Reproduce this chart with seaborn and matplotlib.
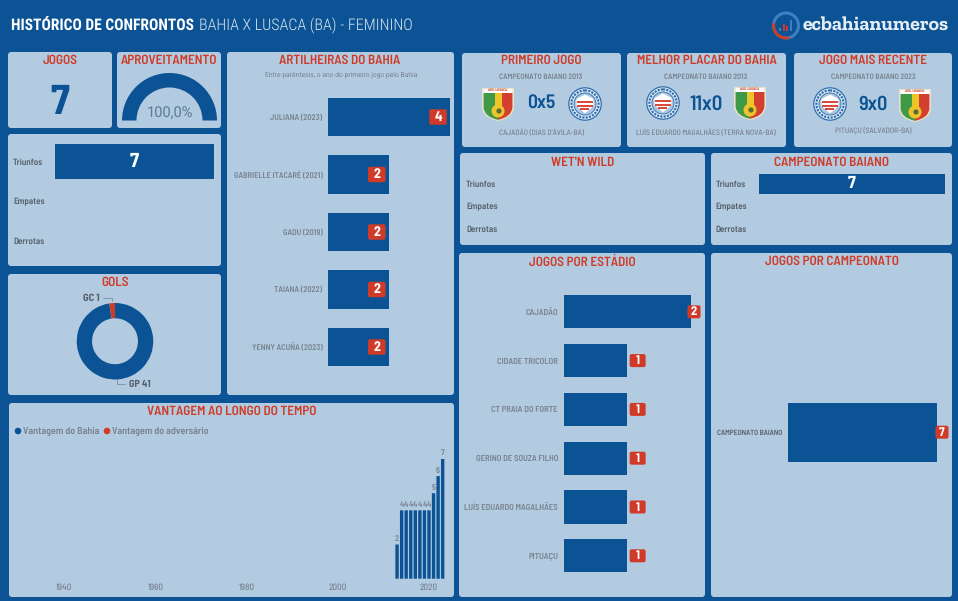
import pandas as pd
import seaborn as sns
import matplotlib.pyplot as plt
from matplotlib.patches import FancyBboxPatch, Circle, Wedge, Polygon, Rectangle, PathPatch
from matplotlib.path import Path
from matplotlib.transforms import IdentityTransform

# data
jogos = 7
aproveitamento = "100,0%"
aproveitamento_valor = 100.0
resultado_nomes = ["Triunfos", "Empates", "Derrotas"]
resultado_geral = [7, 0, 0]
resultado_wet = [0, 0, 0]
resultado_baiano = [7, 0, 0]
gols_nomes = ["GP", "GC"]
gols_valores = [41, 1]
artilheiras = ["JULIANA (2023)", "GABRIELLE ITACARÉ (2021)", "GADU (2019)", "TAIANA (2022)", "YENNY ACUÑA (2023)"]
artilheiras_gols = [4, 2, 2, 2, 2]
estadios = ["CAJADÃO", "CIDADE TRICOLOR", "CT PRAIA DO FORTE", "GERINO DE SOUZA FILHO", "LUÍS EDUARDO MAGALHÃES", "PITUAÇU"]
estadios_jogos = [2, 1, 1, 1, 1, 1]
campeonatos = ["CAMPEONATO BAIANO"]
campeonatos_jogos = [7]
anos = [2013, 2014, 2015, 2016, 2017, 2018, 2019, 2020, 2021, 2022, 2023]
vantagem = [2, 4, 4, 4, 4, 4, 4, 4, 5, 6, 7]
anos_ticks = [1940, 1960, 1980, 2000, 2020]

W, H = 958, 601
BLUE = "#0b5394"
PANEL = "#b3cbe0"
RED = "#cf3b28"
GREY = "#778290"
DARK = "#56606b"
DIN = ["Barlow Semi Condensed", "Roboto", "DejaVu Sans"]
TITLE = ["Roboto Condensed", "Roboto", "DejaVu Sans"]
SLAB = ["Zilla Slab", "DejaVu Serif"]
LIGHT = ["Roboto", "DejaVu Sans"]

sns.set_style("white", {"axes.facecolor": "none"})
plt.rcParams["font.family"] = DIN
plt.rcParams["text.hinting"] = "no_hinting"

fig = plt.figure(figsize=(W / 100, H / 100), dpi=100, facecolor=BLUE)

# background layer in pixel coordinates, for the panels and loose text
bg = fig.add_axes([0, 0, 1, 1])
bg.set_xlim(0, W)
bg.set_ylim(H, 0)
bg.axis("off")


def panel(x0, y0, x1, y1):
    bg.add_patch(FancyBboxPatch((x0, y0), x1 - x0, y1 - y0, boxstyle="round,pad=0,rounding_size=3", fc=PANEL, ec="none"))


def txt(x, y, s, size, color=GREY, weight="bold", ha="center", **kw):
    bg.text(x, y, s, fontsize=size, color=color, fontweight=weight, ha=ha, va="center", **kw)


def box(x0, y0, x1, y1):
    ax = fig.add_axes([x0 / W, 1 - y1 / H, (x1 - x0) / W, (y1 - y0) / H])
    ax.patch.set_alpha(0)
    return ax


def hbars(rect, nomes, valores, xmax, bar_w, label_size, label_color=GREY, pad=3.6):
    ax = box(*rect)
    df = pd.DataFrame({"nome": nomes, "valor": valores})
    sns.barplot(data=df, x="valor", y="nome", orient="h", color=BLUE, saturation=1, width=bar_w, linewidth=0, ax=ax)
    ax.set_xlim(0, xmax)
    ax.set(xlabel="", ylabel="", xticks=[])
    ax.tick_params(axis="y", length=0, pad=pad, labelsize=label_size, labelcolor=label_color)
    for lab in ax.get_yticklabels():
        lab.set_fontweight("semibold")
    sns.despine(ax=ax, left=True, bottom=True)
    return ax


def badge(ax, valores, dx, size, bw, bh):
    # red tag next to the bar end, placed from the axes scale; dx and bw are in pixels
    for i, v in enumerate(valores):
        px, py = ax.transData.transform((v, i))
        w = bw(v)
        x = px + dx(v)
        fig.add_artist(FancyBboxPatch((x - w / 2, py - bh / 2), w, bh, boxstyle="round,pad=0,rounding_size=2",
                                      fc=RED, ec="none", transform=IdentityTransform(), zorder=5))
        fig.text(x / W, (py - 0.3) / H, str(v), color="white", fontsize=size, fontweight="bold",
                 ha="center", va="center", zorder=6)


def left_labels(ax, pad_px):
    ax.tick_params(axis="y", pad=pad_px * 0.72)
    for lab in ax.get_yticklabels():
        lab.set_horizontalalignment("left")


def bahia(cx, cy):
    bg.add_patch(Circle((cx, cy), 16.8, fc="#2b6cae", ec="none"))
    bg.add_patch(Circle((cx, cy), 15.6, fc="#d9e5f0", ec="none"))
    bg.add_patch(Circle((cx, cy), 13.6, fc="none", ec="#2b6cae", lw=1.5, ls=(0, (1, 0.6))))
    bg.add_patch(Circle((cx, cy), 11, fc="#a9c6e2", ec="#2b6cae", lw=0.6))
    bg.add_patch(Polygon([(cx - 8.5, cy - 5), (cx, cy - 9.5), (cx + 8.5, cy - 5), (cx + 8.5, cy + 2), (cx, cy + 9.5), (cx - 8.5, cy + 2)], fc="white", ec="none"))
    for dy, half in [(-3.2, 8), (0.6, 8), (4.2, 4.5)]:
        bg.add_patch(Rectangle((cx - half, cy + dy), half * 2, 2.2, fc="#d84a3c", ec="none"))


def lusaca(cx, cy):
    verts = [(cx - 16, cy - 16), (cx + 16, cy - 16), (cx + 16, cy + 4), (cx + 15, cy + 14), (cx, cy + 17),
             (cx - 15, cy + 14), (cx - 16, cy + 4), (cx - 16, cy - 16)]
    codes = [Path.MOVETO, Path.LINETO, Path.LINETO, Path.CURVE3, Path.CURVE3, Path.CURVE3, Path.CURVE3, Path.CLOSEPOLY]
    bg.add_patch(PathPatch(Path(verts, codes), fc="#e8e2c8", ec="none"))
    inner = PathPatch(Path([(cx + (x - cx) * 0.9, cy + (y - cy) * 0.93) for x, y in verts], codes), fc="none", ec="none")
    bg.add_patch(inner)
    parts = [
        Rectangle((cx - 16, cy - 16), 32, 5, fc="white", ec="none"),
        Rectangle((cx - 16, cy - 11), 16, 28, fc="#3f9a48", ec="none"),
        Rectangle((cx, cy - 11), 16, 28, fc="#d4402f", ec="none"),
        Rectangle((cx - 3, cy - 11), 7, 16, fc="#ecc628", ec="none"),
        Circle((cx, cy + 7), 6.5, fc="#ecc628", ec="none"),
        Circle((cx + 1, cy + 7), 2.6, fc="#5b6b35", ec="none"),
    ]
    for p in parts:
        bg.add_patch(p)
        p.set_clip_path(inner)
    txt(cx, cy - 13.5, "ASS. LUSACA", 2.6, RED)


# panels
panel(8, 52, 112, 128)
panel(117, 52, 221, 128)
panel(8, 134, 221, 266)
panel(227, 52, 454, 395)
panel(8, 274, 221, 395)
panel(9, 403, 454, 597)
panel(462, 53, 621, 147)
panel(627, 53, 786, 147)
panel(794, 53, 952, 147)
panel(460, 153, 705, 245)
panel(711, 153, 952, 245)
panel(459, 253, 705, 597)
panel(711, 253, 952, 597)

# header
txt(11, 25.5, "HISTÓRICO DE CONFRONTOS", 11.2, "white", "bold", "left", family=TITLE)
txt(199, 25.5, "BAHIA X LUSACA (BA) - FEMININO", 11.5, "#d5e3ef", "light", "left", family=TITLE)

# logo
bg.add_patch(Wedge((786, 25.5), 14, 0, 360, width=3, fc="#3f7fc2", ec="none"))
bg.add_patch(Wedge((786, 25.5), 14, 75, 190, width=3, fc=RED, ec="none"))
bg.add_patch(Rectangle((779.5, 28), 2, 3, fc="#3f7fc2", ec="none"))
bg.add_patch(Rectangle((783, 24), 2, 7, fc=RED, ec="none"))
bg.add_patch(Rectangle((786.5, 26), 2, 5, fc=RED, ec="none"))
bg.add_patch(Rectangle((790, 20), 2, 11, fc="#3f7fc2", ec="none"))
txt(803, 25, "ecbahianumeros", 14.3, "#e6eef5", "bold", "left", family=SLAB)

# panel titles
titulos = [(60, 60, "JOGOS"), (169, 60, "APROVEITAMENTO"), (340, 60, "ARTILHEIRAS DO BAHIA"),
           (115, 282, "GOLS"), (232, 411, "VANTAGEM AO LONGO DO TEMPO"), (541, 60, "PRIMEIRO JOGO"),
           (707, 60, "MELHOR PLACAR DO BAHIA"), (873, 60, "JOGO MAIS RECENTE"), (583, 162, "WET'N WILD"),
           (832, 162, "CAMPEONATO BAIANO"), (582, 261, "JOGOS POR ESTÁDIO"), (832, 261, "JOGOS POR CAMPEONATO")]
for x, y, s in titulos:
    txt(x, y + 0.7, s, 9.5, RED, "semibold")

txt(60, 103, str(jogos), 30, BLUE, "bold")
txt(341, 74.5, "Entre parêntesis, o ano do primeiro jogo pelo Bahia", 4.9, GREY, "normal", family=LIGHT)

# aproveitamento gauge
gauge = box(122, 73, 217, 120.5)
gauge.pie([aproveitamento_valor, 200 - aproveitamento_valor], colors=[BLUE, "none"], startangle=180, counterclock=False,
          radius=1, wedgeprops=dict(width=1 - 33 / 47.5, lw=0))
gauge.set_xlim(-1, 1)
gauge.set_ylim(0, 1)
txt(170, 113, aproveitamento, 10.5, "#5a7a9a", "normal", family=LIGHT)

# triunfos / empates / derrotas
ax = hbars((55, 142, 214, 261), resultado_nomes, resultado_geral, 7, 0.88, 6.5, DARK)
left_labels(ax, 42)
ax.text(3.5, 0, str(resultado_geral[0]), color="white", fontsize=14.5, fontweight="bold", ha="center", va="center")

ax = hbars((505, 172.75, 695, 240.25), resultado_nomes, resultado_wet, 7, 0.9, 6.5, DARK)
left_labels(ax, 39)

ax = hbars((758.7, 172.75, 945.3, 240.25), resultado_nomes, resultado_baiano, 7, 0.9, 6.5, DARK)
left_labels(ax, 43)
ax.text(3.5, 0, str(resultado_baiano[0]), color="white", fontsize=12.5, fontweight="bold", ha="center", va="center")

# artilheiras
ax = hbars((327.5, 88.25, 450, 375.75), artilheiras, artilheiras_gols, 4, 0.67, 6)
badge(ax, artilheiras_gols, lambda v: -12, 10, lambda v: 17.5, 15.5)

# gols donut
ax = box(76.7, 303, 153.3, 379.5)
ax.pie(gols_valores, colors=[BLUE, RED], startangle=90, counterclock=False, radius=1, wedgeprops=dict(width=0.4, lw=0))
ax.set_xlim(-1, 1)
ax.set_ylim(-1, 1)
txt(83, 298, "%s %d" % (gols_nomes[1], gols_valores[1]), 7.5, DARK, ha="left")
txt(129, 384, "%s %d" % (gols_nomes[0], gols_valores[0]), 7.3, DARK, ha="left")
bg.plot([103, 112, 112], [298, 298, 301], color=GREY, lw=0.5)
bg.plot([117, 117, 125], [379, 384, 384], color=GREY, lw=0.5)

# vantagem ao longo do tempo
ax = box(20, 440, 449, 578.7)
sns.barplot(x=anos, y=vantagem, native_scale=True, color=BLUE, saturation=1, width=0.74, linewidth=0, ax=ax)
ax.set_xlim(2020 + (20 - 429) / 4.56, 2020 + (449 - 429) / 4.56)
ax.set_ylim(0, 138.7 / 17.1)
ax.set_xticks(anos_ticks)
ax.set_xticklabels([str(a) for a in anos_ticks])
ax.set_yticks([])
ax.set(xlabel="", ylabel="")
ax.tick_params(axis="x", length=0, pad=3.5, labelsize=6.6, labelcolor=GREY)
for lab in ax.get_xticklabels():
    lab.set_fontweight("medium")
for bar in ax.containers[0]:
    bar.set_snap(False)
ax.bar_label(ax.containers[0], fontsize=6, color=GREY, padding=1.5, fontweight="semibold")
sns.despine(ax=ax, left=True, bottom=True)
bg.add_patch(Circle((18, 431), 3.3, fc=BLUE, ec="none"))
bg.add_patch(Circle((107, 431), 3.3, fc=RED, ec="none"))
txt(23, 431, "Vantagem do Bahia", 7.2, ha="left", weight="semibold")
txt(112, 431, "Vantagem do adversário", 7.2, ha="left", weight="semibold")

# placares
txt(541, 77, "CAMPEONATO BAIANO 2013", 5.6, weight="semibold")
txt(706, 76.5, "CAMPEONATO BAIANO 2013", 5.6, weight="semibold")
txt(873, 77, "CAMPEONATO BAIANO 2023", 5.6, weight="semibold")
txt(541, 104, "0x5", 14, BLUE, "semibold")
txt(706, 105, "11x0", 15, BLUE, "semibold")
txt(873, 105, "9x0", 14.5, BLUE, "semibold")
txt(541, 133.5, "CAJADÃO (DIAS D'ÁVILA-BA)", 5.6, weight="medium")
txt(706, 133.5, "LUÍS EDUARDO MAGALHÃES (TERRA NOVA-BA)", 5.6, weight="medium")
txt(873, 131.5, "PITUAÇU (SALVADOR-BA)", 5.6, weight="medium")
lusaca(498, 104)
bahia(585, 104)
bahia(663, 103)
lusaca(750, 103)
bahia(830, 104)
lusaca(915, 105)

# jogos por estadio / campeonato
ax = hbars((564, 287.4, 690.7, 580.2), estadios, estadios_jogos, 2, 0.677, 6.2, pad=4.3)
badge(ax, estadios_jogos, lambda v: 10.3 if v == 1 else 3.3, 9, lambda v: 16 if v == 1 else 13, 13)

ax = hbars((788.3, 387.9, 937.3, 476.5), campeonatos, campeonatos_jogos, 7, 0.67, 5.4, DARK, pad=4.3)
badge(ax, campeonatos_jogos, lambda v: 4.7, 9, lambda v: 13, 13)

fig.savefig("out.png", dpi=100, facecolor=BLUE)
